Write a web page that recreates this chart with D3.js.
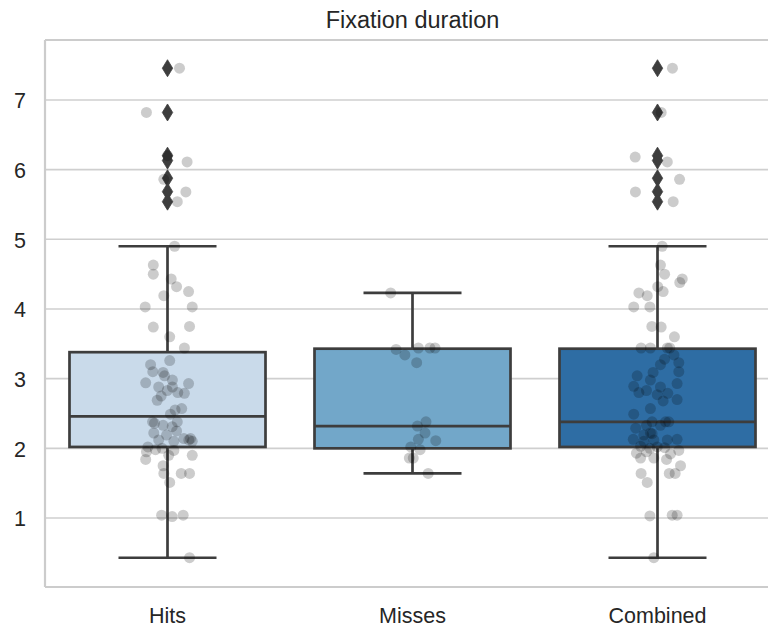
<!DOCTYPE html>
<html>
<head>
<meta charset="utf-8">
<script src="https://cdn.jsdelivr.net/npm/d3@7/dist/d3.min.js"></script>
<style>
  html, body { margin: 0; padding: 0; background: #ffffff; }
  svg { display: block; font-family: "Liberation Sans", Arial, sans-serif; }
</style>
</head>
<body>
<svg id="chart" width="768" height="628"></svg>
<script>
// ---------------- DATA ----------------
const title = "Fixation duration";
const categories = ["Hits", "Misses", "Combined"];
const yTicks = [1, 2, 3, 4, 5, 6, 7];

// Box statistics
const q1 = [2.02, 2.00, 2.02];
const medians = [2.46, 2.32, 2.38];
const q3 = [3.38, 3.43, 3.43];
const whiskerLow = [0.43, 1.64, 0.43];
const whiskerHigh = [4.90, 4.23, 4.90];

// Outliers (diamonds)
const outliersHits = [7.455, 6.82, 6.20, 6.13, 5.876, 5.684, 5.54];
const outliersMisses = [];
const outliersCombined = [7.455, 6.82, 6.20, 6.13, 5.876, 5.684, 5.54];

// Individual observations (strip plot) and their jitter (fraction of category step)
const hitsValues = [7.455, 6.82, 6.20, 6.11, 5.86, 5.68, 5.54, 4.90, 4.63, 4.50, 4.43, 4.32, 4.25, 4.19, 4.03, 4.03,
  3.74, 3.75, 3.60, 3.44, 3.26, 3.20, 3.10, 3.09, 3.04, 2.98, 2.94, 2.93, 2.88, 2.88, 2.83, 2.80, 2.79, 2.75, 2.69,
  2.57, 2.55, 2.49, 2.38, 2.36, 2.38, 2.33, 2.31, 2.22, 2.25, 2.19, 2.14, 2.14, 2.12, 2.10, 2.12, 2.10, 2.02, 1.98,
  2.00, 1.95, 1.97, 1.90, 1.90, 1.84, 1.75, 1.64, 1.64, 1.64, 1.51, 1.04, 1.02, 1.04, 0.43];
const hitsJitter = [0.049, -0.086, 0.0, 0.080, -0.015, 0.075, 0.040, 0.029, -0.058, -0.058, 0.015, 0.037, 0.086, -0.015, -0.091, 0.101,
  -0.058, 0.090, 0.009, 0.069, 0.009, -0.069, -0.060, -0.018, -0.012, 0.020, -0.089, 0.086, -0.036, 0.020, -0.001, 0.042, 0.069, -0.026, -0.042,
  0.058, 0.031, 0.012, -0.061, -0.053, 0.040, -0.018, 0.019, -0.056, 0.037, -0.004, 0.094, 0.067, -0.036, 0.026, 0.087, 0.101, -0.080, -0.049,
  -0.022, -0.086, 0.026, 0.005, 0.101, -0.089, -0.018, -0.015, 0.056, 0.090, 0.009, -0.024, 0.019, 0.064, 0.090];

const missesValues = [4.23, 3.42, 3.34, 3.44, 3.44, 3.44, 3.23, 2.38, 2.32, 2.22, 2.13, 2.11, 2.02, 1.98, 1.86, 1.86, 1.64];
const missesJitter = [-0.089, -0.067, -0.031, 0.024, 0.071, 0.092, 0.017, 0.055, 0.020, 0.051, 0.024, 0.095, -0.007, 0.031, -0.013, 0.003, 0.064];

const combinedValues = [7.455, 6.82, 6.18, 6.11, 5.86, 5.68, 5.54, 4.90, 4.63, 4.50, 4.43, 4.38, 4.32, 4.25, 4.23, 4.19,
  4.03, 4.03, 3.75, 3.74, 3.60, 3.44, 3.44, 3.44, 3.44, 3.34, 3.28, 3.20, 3.23, 3.09, 3.10, 3.04, 2.98, 2.89, 2.93,
  2.88, 2.80, 2.83, 2.79, 2.77, 2.68, 2.70, 2.57, 2.49, 2.38, 2.38, 2.38, 2.29, 2.33, 2.33, 2.22, 2.13, 2.13, 2.19,
  2.21, 2.10, 2.12, 2.12, 2.03, 2.00, 2.02, 2.01, 1.93, 1.95, 1.97, 1.86, 1.86, 1.84, 1.92, 1.75, 1.64, 1.64, 1.64,
  1.51, 1.03, 1.04, 1.04, 0.43];
const combinedJitter = [0.061, 0.015, -0.091, 0.040, 0.090, -0.090, 0.064, 0.019, 0.012, 0.029, 0.101, 0.091, 0.001, 0.023, -0.076, -0.042,
  -0.097, -0.031, -0.023, 0.015, 0.069, -0.067, -0.029, 0.040, 0.050, 0.067, 0.029, 0.012, 0.087, -0.018, 0.087, -0.083, -0.029, -0.097, 0.080,
  0.012, -0.076, -0.045, 0.042, -0.001, 0.023, 0.080, -0.029, -0.097, -0.022, 0.033, 0.046, -0.089, -0.045, 0.012, -0.029, -0.099, 0.080, -0.056,
  -0.022, -0.056, -0.015, 0.040, -0.069, -0.031, -0.001, 0.029, -0.086, -0.045, 0.087, -0.069, -0.015, 0.037, 0.053, 0.094, -0.067, 0.048, 0.072,
  -0.042, -0.031, 0.060, 0.080, -0.015];

const boxColors = ["#c9daea", "#72a7c9", "#2e6da4"];

// ---------------- LAYOUT ----------------
const svg = d3.select("#chart");
const plotLeft = 45, plotRight = 780, plotTop = 40, plotBottom = 587;

const x = d3.scaleBand().domain(categories).range([plotLeft, plotRight]).paddingInner(0).paddingOuter(0);
const y = d3.scaleLinear().domain([0.01, 7.86]).range([plotBottom, plotTop]);
const boxW = x.bandwidth() * 0.8;
const capW = boxW * 0.5;
const cx = c => x(c) + x.bandwidth() / 2;

// grid
svg.append("g").selectAll("line").data(yTicks).join("line")
  .attr("x1", plotLeft).attr("x2", plotRight)
  .attr("y1", d => y(d)).attr("y2", d => y(d))
  .attr("stroke", "#cfcfcf").attr("stroke-width", 1.6);

// y axis labels via d3 axis
const yAxis = d3.axisLeft(y).tickValues(yTicks).tickSize(0).tickPadding(19).tickFormat(d3.format("d"));
const gy = svg.append("g").attr("transform", `translate(${plotLeft},0)`).call(yAxis);
gy.select(".domain").remove();
gy.selectAll("text").attr("fill", "#262626").style("font-size", "21.5px").attr("dy", "0.36em");

// x axis labels
const xAxis = d3.axisBottom(x).tickSize(0).tickPadding(21);
const gx = svg.append("g").attr("transform", `translate(0,${plotBottom})`).call(xAxis);
gx.select(".domain").remove();
gx.selectAll("text").attr("fill", "#262626").style("font-size", "21.5px");

// spines
const spine = svg.append("g").attr("stroke", "#cccccc").attr("stroke-width", 2.2).attr("fill", "none");
spine.append("line").attr("x1", plotLeft).attr("x2", plotLeft).attr("y1", plotTop).attr("y2", plotBottom);
spine.append("line").attr("x1", plotLeft).attr("x2", plotRight).attr("y1", plotTop).attr("y2", plotTop);
spine.append("line").attr("x1", plotLeft).attr("x2", plotRight).attr("y1", plotBottom).attr("y2", plotBottom);

// boxes
const edge = "#3d3d3d";
const lw = 2.7;
const boxes = svg.append("g");
categories.forEach((c, i) => {
  const g = boxes.append("g");
  const xc = cx(c);
  g.append("line").attr("x1", xc).attr("x2", xc).attr("y1", y(q3[i])).attr("y2", y(whiskerHigh[i]))
    .attr("stroke", edge).attr("stroke-width", lw);
  g.append("line").attr("x1", xc).attr("x2", xc).attr("y1", y(q1[i])).attr("y2", y(whiskerLow[i]))
    .attr("stroke", edge).attr("stroke-width", lw);
  g.append("line").attr("x1", xc - capW / 2).attr("x2", xc + capW / 2).attr("y1", y(whiskerHigh[i])).attr("y2", y(whiskerHigh[i]))
    .attr("stroke", edge).attr("stroke-width", lw);
  g.append("line").attr("x1", xc - capW / 2).attr("x2", xc + capW / 2).attr("y1", y(whiskerLow[i])).attr("y2", y(whiskerLow[i]))
    .attr("stroke", edge).attr("stroke-width", lw);
  g.append("rect").attr("x", xc - boxW / 2).attr("width", boxW)
    .attr("y", y(q3[i])).attr("height", y(q1[i]) - y(q3[i]))
    .attr("fill", boxColors[i]).attr("stroke", edge).attr("stroke-width", lw);
  g.append("line").attr("x1", xc - boxW / 2).attr("x2", xc + boxW / 2).attr("y1", y(medians[i])).attr("y2", y(medians[i]))
    .attr("stroke", edge).attr("stroke-width", lw);
});

// outliers (thin diamonds)
const outlierSets = [outliersHits, outliersMisses, outliersCombined];
const diamond = "M0,-8.5L5.2,0L0,8.5L-5.2,0Z";
categories.forEach((c, i) => {
  svg.append("g").selectAll("path").data(outlierSets[i]).join("path")
    .attr("d", diamond)
    .attr("transform", d => `translate(${cx(c)},${y(d)})`)
    .attr("fill", edge).attr("stroke", edge).attr("stroke-width", 0.8);
});

// strip points
const valueSets = [hitsValues, missesValues, combinedValues];
const jitterSets = [hitsJitter, missesJitter, combinedJitter];
categories.forEach((c, i) => {
  const pts = valueSets[i].map((v, k) => ({ v, j: jitterSets[i][k] }));
  svg.append("g").selectAll("circle").data(pts).join("circle")
    .attr("cx", d => cx(c) + d.j * x.step())
    .attr("cy", d => y(d.v))
    .attr("r", 5.5)
    .attr("fill", "#000000").attr("fill-opacity", 0.2);
});

// title
svg.append("text").attr("x", (plotLeft + plotRight) / 2).attr("y", 28)
  .attr("text-anchor", "middle").attr("fill", "#262626").style("font-size", "23.5px").text(title);
</script>
</body>
</html>
